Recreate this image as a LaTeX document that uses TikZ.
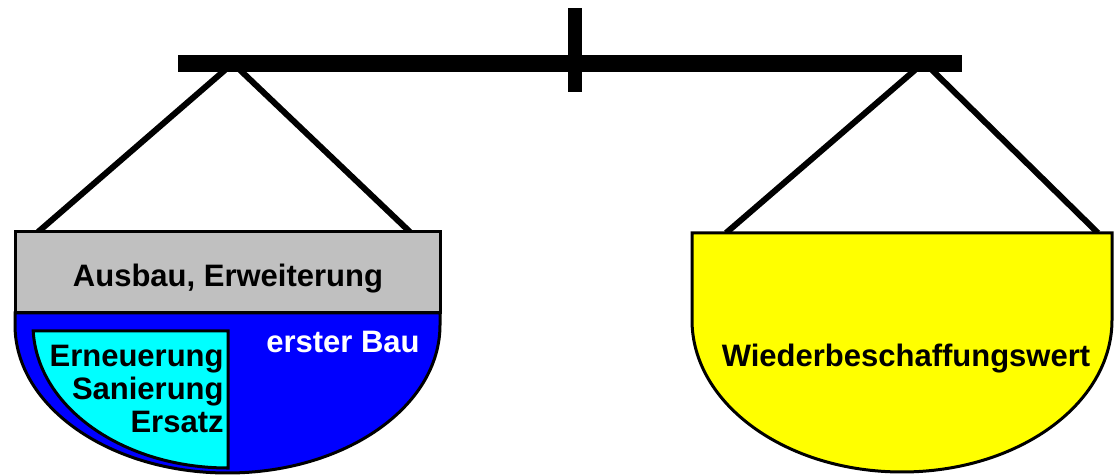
\documentclass[tikz,border=0pt]{standalone}
\usepackage{fontspec}
\setmainfont{Liberation Sans}
\usepackage{tikz}

\definecolor{pangray}{HTML}{C0C0C0}
\definecolor{panblue}{HTML}{0000FF}
\definecolor{pancyan}{HTML}{00FFFF}
\definecolor{panyellow}{HTML}{FFFF00}
\tikzset{
  rope/.style={line width=3pt},
  pan/.style={draw=black, line width=1.5pt},
  txt/.style={font=\fontsize{15.5}{16.5}\selectfont\bfseries, inner sep=0pt}
}

\begin{document}
\begin{tikzpicture}[x=0.5pt, y=0.5pt]
    \useasboundingbox (0,0) rectangle (1114,-475);
    % beam and post
    \fill (178,-55) rectangle (962,-72);
    \fill (568,-8) rectangle (582,-92);
    \coordinate (hookLa) at (225,-70);
    \coordinate (hookLb) at (240,-70);
    \coordinate (hookRa) at (915,-70);
    \coordinate (hookRb) at (932,-70);
    \coordinate (panLa) at (38,-232);
    \coordinate (panLb) at (410,-232);
    \coordinate (panRa) at (726,-233);
    \coordinate (panRb) at (1098,-233);
    % ropes
    \draw[rope] (hookLa) -- (panLa);
    \draw[rope] (hookLb) -- (panLb);
    \draw[rope] (hookRa) -- (panRa);
    \draw[rope] (hookRb) -- (panRb);
    % left pan
    \filldraw[pan, fill=panblue] (15,-313) -- (15,-325)
        arc[start angle=180, end angle=360, x radius=212.5, y radius=148] -- (440,-313) -- cycle;
    \filldraw[pan, fill=pangray] (15,-232) rectangle (440,-313);
    \filldraw[pan, fill=pancyan] (228,-331) -- (33.2,-331)
        arc[start angle=182.4, end angle=270, x radius=195, y radius=143] -- cycle;
    \node[txt, anchor=base] (ausbau) at (228,-287) {Ausbau, Erweiterung};
    \node[txt, anchor=base, text=white] (bau) at (343,-353) {erster Bau};
    \node[txt, anchor=east, align=right] (erneuerung) at (224,-389) {Erneuerung\\Sanierung\\Ersatz};
    % right pan
    \filldraw[pan, fill=panyellow] (692,-233) -- (692,-320)
        arc[start angle=180, end angle=360, x radius=210, y radius=152] -- (1112,-233) -- cycle;
    \node[txt, anchor=base] (wert) at (906,-367) {Wiederbeschaffungswert};
\end{tikzpicture}
\end{document}
